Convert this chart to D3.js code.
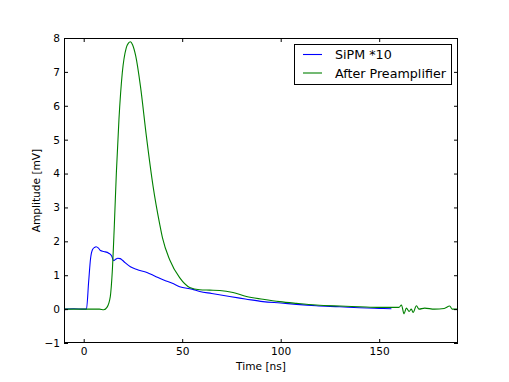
<!DOCTYPE html>
<html>
<head>
<meta charset="utf-8">
<script src="https://cdn.jsdelivr.net/npm/d3@7"></script>
<style>
  body { margin: 0; background: #fff; }
  text { font-family: "DejaVu Sans", sans-serif; }
</style>
</head>
<body>
<div class="chart"></div>
<script>
// SiPM signal (x10), time in ns, amplitude in mV
const sipmTime = [-10, -9.5, -5, 0, 1.4, 2.5, 3.5, 4.5, 5.5, 6.3, 7.5, 8.5, 10.2, 12.7, 14.2, 15.2, 16.2, 17.3, 18.5, 19.5, 21, 23.7, 27, 32.1, 36, 40.6, 45, 48.7, 55, 58.9, 65, 74.1, 82, 91, 100, 108, 118, 130, 140, 150, 156.2]
const sipmAmp  = [-0.2, 0.0, 0.01, 0.0, 0.0, 0.8, 1.5, 1.76, 1.82, 1.84, 1.8, 1.73, 1.7, 1.65, 1.57, 1.43, 1.47, 1.5, 1.49, 1.45, 1.37, 1.25, 1.17, 1.08, 0.98, 0.86, 0.76, 0.66, 0.59, 0.52, 0.46, 0.37, 0.3, 0.22, 0.18, 0.14, 0.1, 0.07, 0.04, 0.02, 0.01]

// signal after the preamplifier
const preTime = [-10, 0, 8, 10.2, 11.8, 13.5, 14.5, 15.5, 16.6, 17.9, 19.6, 21.6, 22.7, 23.7, 24.8, 26.4, 28.8, 31.8, 35.2, 38.6, 40, 43.7, 48.7, 53.8, 58.9, 64, 69, 75.8, 82.6, 91, 99.5, 108, 118, 130, 140, 150, 160, 161.3, 162.6, 163.8, 165.2, 166.3, 167.2, 168.9, 170.2, 173.1, 178, 183, 185.8, 187, 190]
const preAmp  = [0.0, 0.0, 0.0, -0.02, 0.05, 0.37, 1.1, 2.4, 4.05, 5.6, 6.98, 7.71, 7.85, 7.89, 7.8, 7.47, 6.58, 5.11, 3.63, 2.5, 2.1, 1.45, 0.93, 0.64, 0.57, 0.56, 0.55, 0.49, 0.37, 0.29, 0.22, 0.17, 0.12, 0.09, 0.07, 0.05, 0.05, 0.12, -0.14, 0.03, -0.07, 0.0, -0.1, 0.1, 0.0, 0.03, 0.0, 0.02, 0.09, 0.0, 0.0]

const xTicks = [0, 50, 100, 150]
const yTicks = [-1, 0, 1, 2, 3, 4, 5, 6, 7, 8]
const seriesNames = ['SiPM *10', 'After Preamplifier']
const seriesColors = ['#0000ff', '#008000']

let w = 509,
    h = 382
const m = {left: 64, right: 51, top: 38, bottom: 39}
const fs = '10.6px'

const svg = d3.select('.chart')
              .append('svg')
              .attr('width', w)
              .attr('height', h)

const x = d3.scaleLinear().domain([-10, 190]).range([m.left, w - m.right])
const y = d3.scaleLinear().domain([-1, 8]).range([h - m.bottom, m.top])

svg.append('clipPath').attr('id', 'clip')
   .append('rect')
   .attr('x', m.left).attr('y', m.top)
   .attr('width', x.range()[1] - m.left)
   .attr('height', y.range()[0] - m.top)

const line = d3.line().x(d => x(d[0])).y(d => y(d[1])).curve(d3.curveMonotoneX)

const series = [
  d3.zip(sipmTime, sipmAmp),
  d3.zip(preTime, preAmp)
]

svg.selectAll('path.series')
   .data(series)
   .enter()
   .append('path')
   .attr('class', 'series')
   .attr('clip-path', 'url(#clip)')
   .attr('d', line)
   .attr('fill', 'none')
   .attr('stroke', (d, i) => seriesColors[i])
   .attr('stroke-width', 1.1)

// axes, ticks point inward on all four sides
const fmt = d3.format('d')
const axBottom = svg.append('g')
   .attr('transform', `translate(0,${y.range()[0]})`)
   .call(d3.axisBottom(x).tickValues(xTicks).tickFormat(fmt).tickSize(-4).tickPadding(4.5))
const axTop = svg.append('g')
   .attr('transform', `translate(0,${m.top})`)
   .call(d3.axisTop(x).tickValues(xTicks).tickFormat('').tickSize(-4))
const axLeft = svg.append('g')
   .attr('transform', `translate(${m.left},0)`)
   .call(d3.axisLeft(y).tickValues(yTicks).tickFormat(fmt).tickSize(-4).tickPadding(4))
const axRight = svg.append('g')
   .attr('transform', `translate(${x.range()[1]},0)`)
   .call(d3.axisRight(y).tickValues(yTicks).tickFormat('').tickSize(-4))

;[axBottom, axTop, axLeft, axRight].forEach(g => {
  g.select('.domain').remove()
  g.selectAll('text').attr('font-size', fs).attr('fill', '#000').style('font-family', '"DejaVu Sans", sans-serif')
  g.selectAll('line').attr('stroke', '#000')
})

svg.append('rect')
   .attr('x', m.left + 0.5).attr('y', m.top + 0.5)
   .attr('width', x.range()[1] - m.left - 1)
   .attr('height', y.range()[0] - m.top - 1)
   .attr('fill', 'none')
   .attr('stroke', '#000')
   .attr('stroke-width', 1)

svg.append('text')
   .text('Time [ns]')
   .attr('x', (m.left + x.range()[1]) / 2)
   .attr('y', 370)
   .attr('text-anchor', 'middle')
   .attr('font-size', fs)

svg.append('text')
   .text('Amplitude [mV]')
   .attr('transform', `translate(40,${(m.top + y.range()[0]) / 2}) rotate(-90)`)
   .attr('text-anchor', 'middle')
   .attr('font-size', fs)

// legend
let legend = svg.append('g').attr('id', 'legend')
legend.append('rect')
      .attr('x', 294.5).attr('y', 44.5)
      .attr('width', 157).attr('height', 40)
      .attr('fill', '#fff')
      .attr('stroke', '#000')
      .attr('stroke-width', 1)

seriesNames.forEach((name, i) => {
  const ly = 54.5 + i * 18.5
  legend.append('line')
        .attr('x1', 303).attr('x2', 322)
        .attr('y1', ly).attr('y2', ly)
        .attr('stroke', seriesColors[i])
        .attr('stroke-width', 1.1)
  legend.append('text')
        .text(name)
        .attr('x', 335)
        .attr('y', ly + 4.5)
        .attr('font-size', '12.7px')
})
</script>
</body>
</html>
